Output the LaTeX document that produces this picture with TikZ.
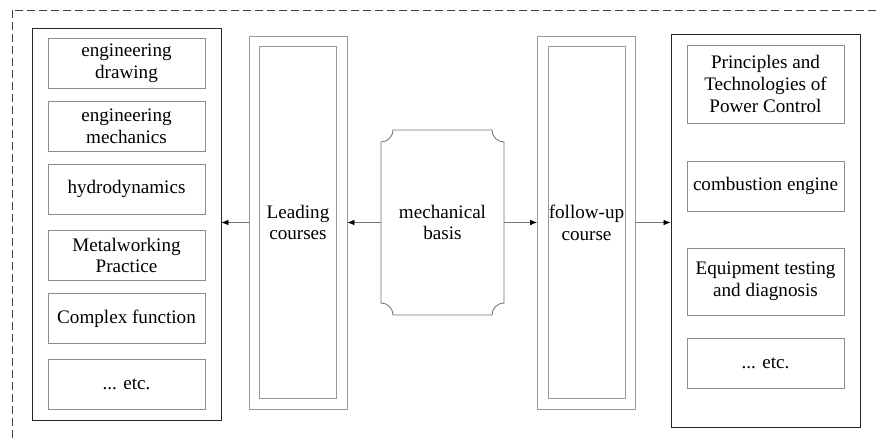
\documentclass[tikz,border=0pt]{standalone}
\usepackage{fontspec}
\setmainfont{Liberation Serif}
\usetikzlibrary{arrows.meta}
\def\unit{0.025cm}
\def\corner{0.3cm}

\begin{document}
\begin{tikzpicture}[x=\unit, y=-\unit, line width=0.6pt]
	\tikzstyle{course}=[draw=black!45, minimum width=157*\unit, minimum height=50*\unit, inner sep=0pt, align=center, font=\fontsize{13.6}{15.5}\selectfont]
	\tikzstyle{frame}=[draw=black!85, minimum width=189*\unit, inner sep=0pt]
	\tikzstyle{outer band}=[draw=black!40, minimum width=98*\unit, minimum height=373*\unit, inner sep=0pt]
	\tikzstyle{inner band}=[draw=black!40, minimum width=77*\unit, minimum height=352*\unit, inner sep=0pt, align=center, font=\fontsize{13.6}{15.5}\selectfont]
	\tikzstyle{basis}=[minimum width=123*\unit, minimum height=185*\unit, inner sep=0pt, outer sep=0pt, align=center, font=\fontsize{13.6}{15.5}\selectfont]
	\tikzstyle{arrow}=[draw=black!55, -{Latex[length=5pt,width=4pt,black]}]
	\tikzstyle{dashed border}=[draw=black!75, line width=0.5pt, dash pattern=on 0.2cm off 0.1cm]
	
	\useasboundingbox (0,0) rectangle (877,438);
	
	% Dashed border
	\draw[dashed border] (12,10) rectangle (900,460);
	
	% Draw the leading courses
	\node[frame, minimum height=392*\unit] (L) at (126.5,224) {};
	\foreach \name / \y / \txt in {1/63/{engineering\\drawing}, 2/126/{engineering\\mechanics}, 3/189/{hydrodynamics}, 4/255.5/{Metalworking\\Practice}, 5/318.5/{Complex function}, 6/384/{... etc.}}
	\node[course] (L-\name) at (126.5,\y) {\txt};
	
	% Draw the follow-up courses
	\node[frame, minimum height=393*\unit] (R) at (765.5,230.5) {};
	\node[course, minimum height=78*\unit] (R-1) at (765.5,84) {Principles and\\Technologies of\\Power Control};
	\node[course] (R-2) at (765.5,186) {combustion engine};
	\node[course, minimum height=67*\unit] (R-3) at (765.5,281.5) {Equipment testing\\and diagnosis};
	\node[course] (R-4) at (765.5,363) {... etc.};
	
	% Draw the double bands
	\node[outer band] (LC) at (298,222.5) {};
	\node[inner band] (LC-in) at (298,222.5) {Leading\\courses};
	\node[outer band] (FU) at (586.5,222.5) {};
	\node[inner band] (FU-in) at (586.5,222.5) {follow-up\\course};
	
	% Draw the mechanical basis
	\node[basis] (M) at (442.5,222.5) {mechanical\\basis};
	\draw[draw=black!55] ([yshift=-\corner]M.north west) arc[start angle=270, end angle=360, radius=\corner]
	-- ([xshift=-\corner]M.north east) arc[start angle=180, end angle=270, radius=\corner]
	-- ([yshift=\corner]M.south east) arc[start angle=90, end angle=180, radius=\corner]
	-- ([xshift=\corner]M.south west) arc[start angle=0, end angle=90, radius=\corner]
	-- cycle;
	
	% Connect
	\draw[arrow] (M.west) -- (M.west -| LC.east);
	\draw[arrow] (LC.west) -- (LC.west -| L.east);
	\draw[arrow] (M.east) -- (M.east -| FU.west);
	\draw[arrow] (FU.east) -- (FU.east -| R.west);
	
\end{tikzpicture}
\end{document}
